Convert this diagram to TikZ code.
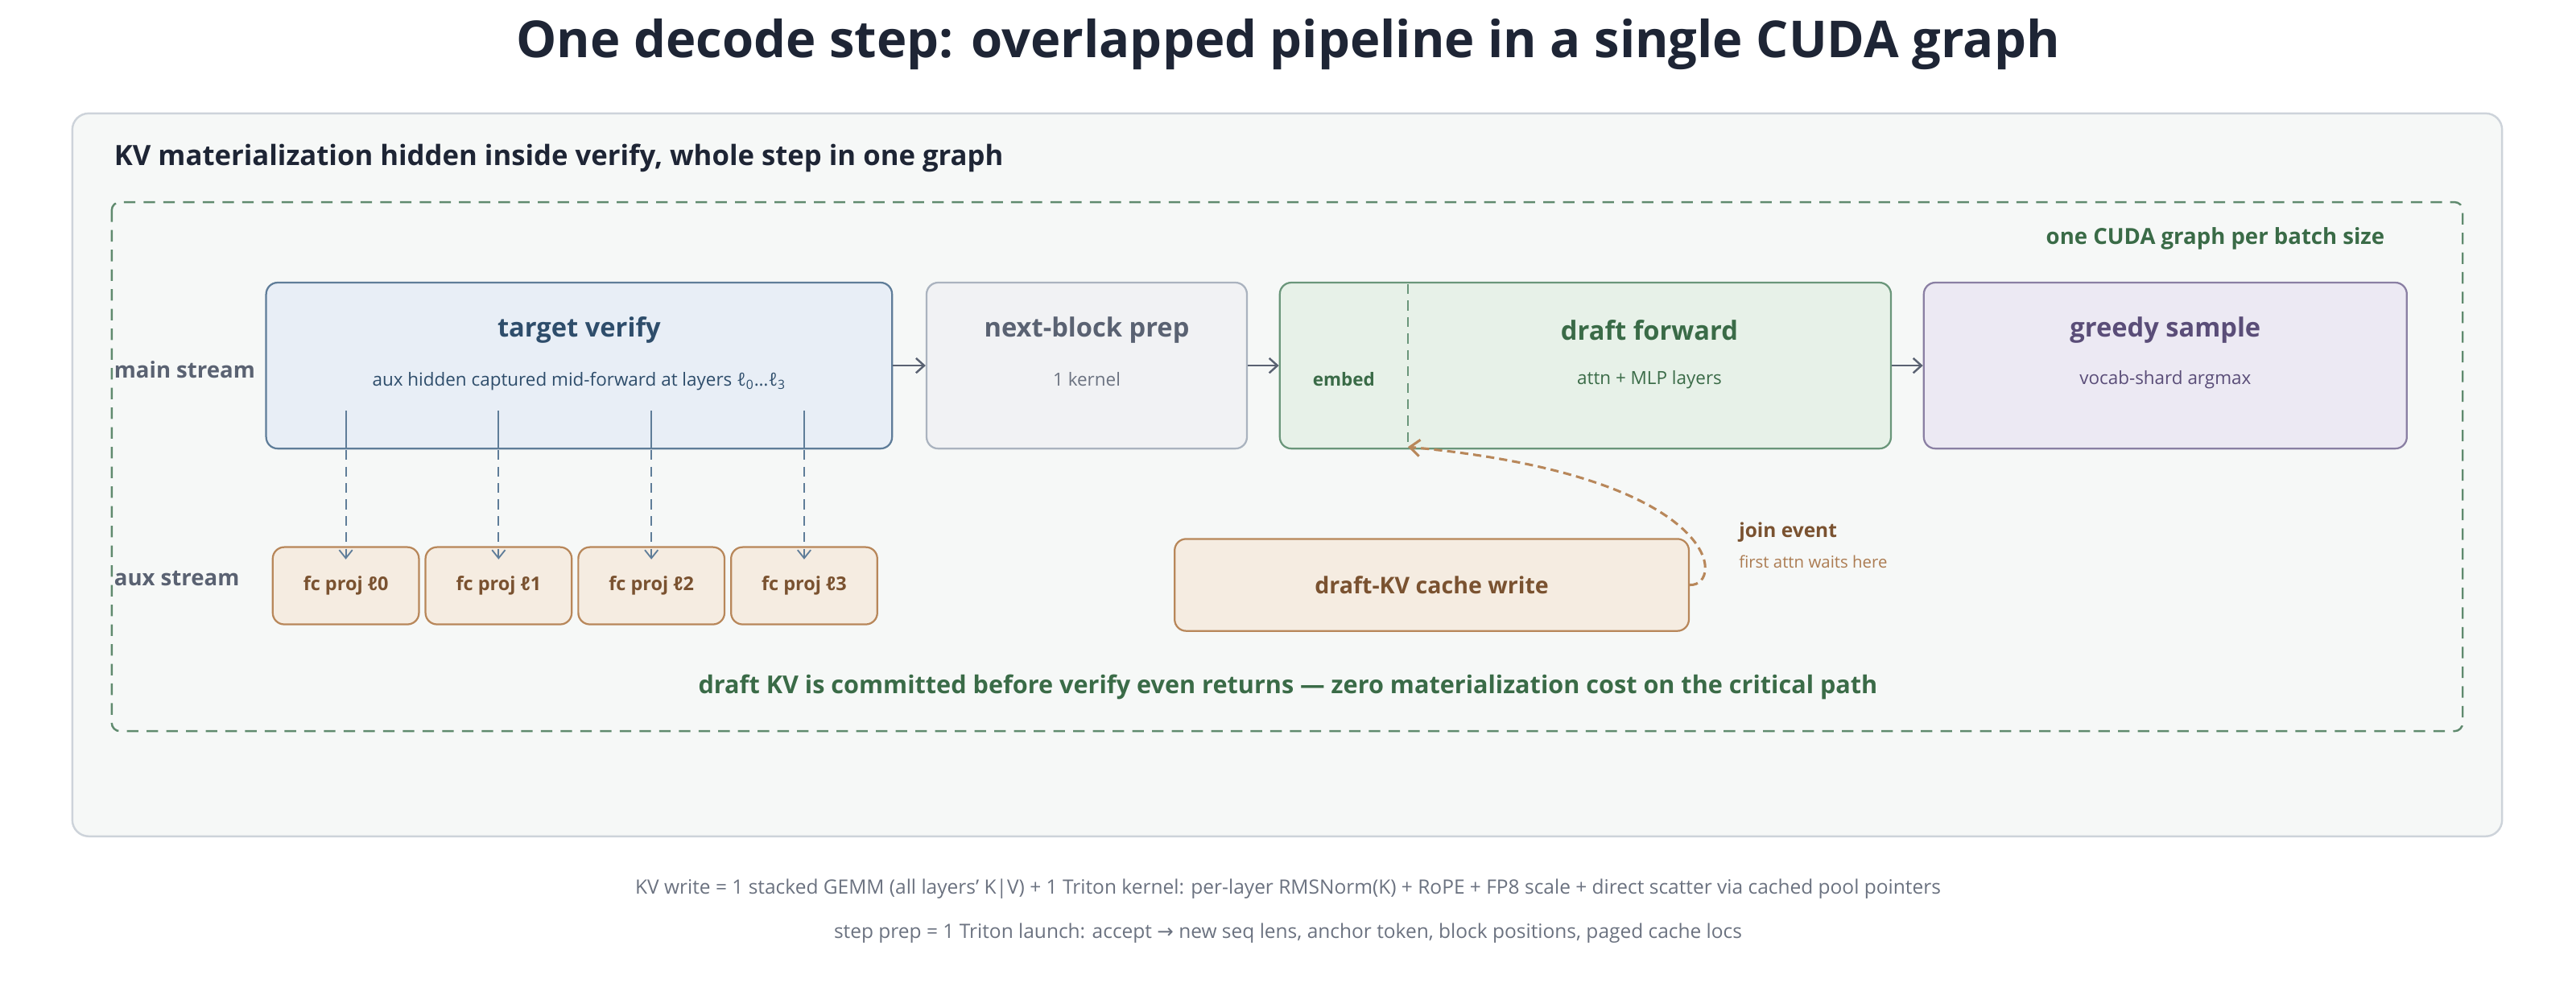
\documentclass[tikz,border=0pt]{standalone}
\usepackage{fontspec}
\setmainfont{Open Sans}
\newfontfamily\dvs{DejaVu Sans}
\usetikzlibrary{arrows.meta}
\definecolor{navy}{HTML}{1E2535}
\definecolor{panelbg}{HTML}{F6F8F7}
\definecolor{panelbd}{HTML}{CDD3DA}
\definecolor{grn}{HTML}{3A6B47}
\definecolor{grnd}{HTML}{5F8A6E}
\definecolor{gry}{HTML}{5A6272}
\definecolor{bluef}{HTML}{E8EEF6}\definecolor{blueb}{HTML}{5F7D99}\definecolor{bluet}{HTML}{2E4D6B}
\definecolor{grayf}{HTML}{F1F2F4}\definecolor{grayb}{HTML}{AAB3BF}
\definecolor{greenf}{HTML}{E7F1E8}\definecolor{greenb}{HTML}{6A967A}
\definecolor{purf}{HTML}{ECE9F3}\definecolor{purb}{HTML}{8A7FA3}\definecolor{purt}{HTML}{5A4D78}
\definecolor{orf}{HTML}{F5ECE1}\definecolor{orb}{HTML}{B8875A}\definecolor{ort}{HTML}{7A5230}
\definecolor{foot}{HTML}{6B7280}
\begin{document}
\begin{tikzpicture}[x=1pt,y=-1pt,
  box/.style={rounded corners=7pt,line width=1.1pt},
  ttl/.style={font=\fontsize{16}{18}\selectfont\bfseries},
  sub/.style={font=\fontsize{11}{13}\selectfont},
  lbl/.style={font=\fontsize{13.5}{15}\selectfont\bfseries,text=gry,anchor=west},
  arr/.style={-{Straight Barb[length=5pt,width=9pt]},line width=1.2pt,draw=gry},
  fc/.style={box,draw=orb,fill=orf,text=ort,font=\fontsize{11.5}{13}\selectfont\bfseries,minimum width=89pt,minimum height=47pt,inner sep=0pt}]
\useasboundingbox (0,0) rectangle (1568,598);
\fill[white] (0,0) rectangle (1568,598);
\node[font=\fontsize{31}{36}\selectfont\bfseries,text=navy] (title) at (784,27) {One decode step: overlapped pipeline in a single CUDA graph};
\draw[rounded corners=10pt,fill=panelbg,draw=panelbd,line width=1.2pt] (44,69) rectangle (1523,509);
\node[anchor=west,font=\fontsize{17}{20}\selectfont\bfseries,text=navy] (subt) at (66,96) {KV materialization hidden inside verify, whole step in one graph};
\draw[grnd,dash pattern=on 7pt off 5pt,line width=1.2pt,rounded corners=5pt] (68,123) rectangle (1499,445);
\node[anchor=east,font=\fontsize{13.5}{16}\selectfont\bfseries,text=grn] (cg) at (1455,145) {one CUDA graph per batch size};
% main boxes
\node[box,draw=blueb,fill=bluef,minimum width=381pt,minimum height=101pt] (tv) at (352.5,222.5) {};
\node[ttl,text=bluet] (tvt) at (352.5,201) {target verify};
\node[sub,text=bluet] (tvs) at (352.5,232) {aux hidden captured mid-forward at layers ℓ\textsubscript{0}…ℓ\textsubscript{3}};
\node[box,draw=grayb,fill=grayf,minimum width=195pt,minimum height=101pt] (nb) at (661.5,222.5) {};
\node[ttl,text=gry] (nbt) at (661.5,201) {next-block prep};
\node[sub,text=foot] (nbs) at (661.5,231) {1 kernel};
\node[box,draw=greenb,fill=greenf,minimum width=372pt,minimum height=101pt] (df) at (965,222.5) {};
\draw[greenb,dash pattern=on 6pt off 4pt,line width=1pt] (857,173) coordinate (ea) -- (857,272) coordinate (eb);
\node[font=\fontsize{11}{13}\selectfont\bfseries,text=grn] (emb) at (818,231) {embed};
\node[ttl,text=grn] (dft) at (1004,201) {draft forward};
\node[sub,text=grn] (dfs) at (1004,231) {attn + MLP layers};
\node[box,draw=purb,fill=purf,minimum width=294pt,minimum height=101pt] (gs) at (1318,222.5) {};
\node[ttl,text=purt] (gst) at (1318,201) {greedy sample};
\node[sub,text=purt] (gss) at (1318,231) {vocab-shard argmax};
\draw[arr] (tv.east) -- (nb.west);
\draw[arr] (nb.east) -- (df.west);
\draw[arr] (df.east) -- (gs.west);
\node[lbl] (ms) at (66,225) {main stream};
\node[lbl] (as) at (66,352) {aux stream};
% fc proj
\node[fc] (f0) at (210.5,356.5) {fc proj ℓ0};
\node[fc] (f1) at (303.5,356.5) {fc proj ℓ1};
\node[fc] (f2) at (396.5,356.5) {fc proj ℓ2};
\node[fc] (f3) at (489.5,356.5) {fc proj ℓ3};
\foreach \i/\x in {0/210.5,1/303.5,2/396.5,3/489.5}{
  \coordinate (s\i) at (\x,250);
  \draw[blueb,line width=0.9pt] (s\i) -- (\x,273);
  \draw[blueb,line width=0.9pt,dash pattern=on 6pt off 4pt,-{Straight Barb[length=5pt,width=8pt]}] (\x,274) -- ([yshift=-8pt]f\i.north);
}
\node[box,draw=orb,fill=orf,text=ort,font=\fontsize{14}{16}\selectfont\bfseries,minimum width=313pt,minimum height=56pt] (kv) at (871.5,356) {draft-KV cache write};
\draw[orb,line width=1.5pt,dash pattern=on 5pt off 3pt,-{Straight Barb[length=6pt,width=10pt]}] (kv.east) .. controls (1050,357) and (1050,290) .. (eb);
\node[anchor=west,font=\fontsize{12}{14}\selectfont\bfseries,text=ort] (je) at (1055,324) {join event};
\node[anchor=west,font=\fontsize{10}{12}\selectfont,text=orb!80!ort] (jw) at (1055,342) {first attn waits here};
\node[font=\fontsize{15}{17}\selectfont\bfseries,text=grn] (bt) at (784,418) {draft KV is committed before verify even returns — zero materialization cost on the critical path};
\node[font=\fontsize{12}{14}\selectfont,text=foot] (n1) at (784,541) {KV write = 1 stacked GEMM (all layers' K|V) + 1 Triton kernel: per-layer RMSNorm(K) + RoPE + FP8 scale + direct scatter via cached pool pointers};
\node[font=\fontsize{12}{14}\selectfont,text=foot] (n2) at (784,568) {step prep = 1 Triton launch: accept {\dvs →} new seq lens, anchor token, block positions, paged cache locs};
\end{tikzpicture}
\end{document}
